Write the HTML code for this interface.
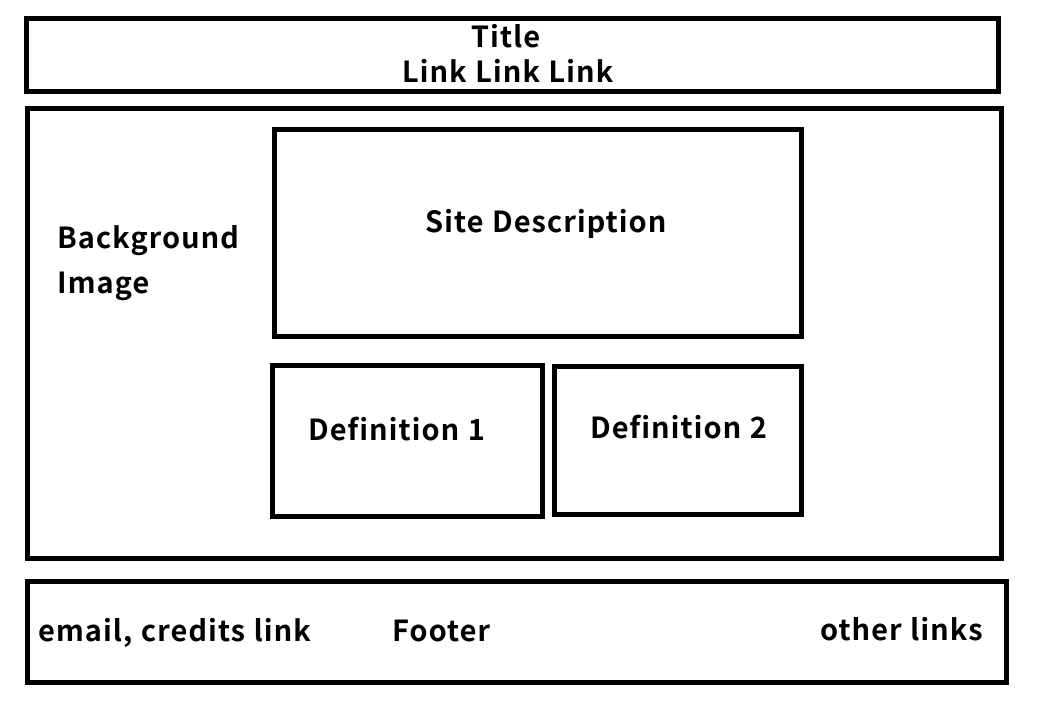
<!DOCTYPE html>
<html><head><meta charset="utf-8"><style>
html,body{margin:0;padding:0;background:#fff;width:1049px;height:707px;overflow:hidden;position:relative}
.b{position:absolute;border:5px solid #000;box-sizing:border-box}
.t{position:absolute;font-family:"Noto Sans CJK KR","DejaVu Sans",sans-serif;font-weight:bold;font-size:29px;color:#000;white-space:nowrap;line-height:1;letter-spacing:1px}
</style></head><body>
<div class="b" style="left:24px;top:16px;width:977px;height:78px"></div>
<div class="b" style="left:25px;top:106px;width:979px;height:455px"></div>
<div class="b" style="left:272px;top:127px;width:532px;height:212px"></div>
<div class="b" style="left:270px;top:363px;width:275px;height:156px"></div>
<div class="b" style="left:552px;top:364px;width:252px;height:153px"></div>
<div class="b" style="left:25px;top:579px;width:984px;height:106px"></div>
<div class="t" style="left:0;width:1012px;text-align:center;top:21px">Title</div>
<div class="t" style="left:0;width:1016px;text-align:center;top:56px">Link Link Link</div>
<div class="t" style="left:57px;top:222px">Background</div>
<div class="t" style="left:57px;top:267px">Image</div>
<div class="t" style="left:425px;top:206px">Site Description</div>
<div class="t" style="left:308px;top:414px">Definition 1</div>
<div class="t" style="left:590px;top:412px">Definition 2</div>
<div class="t" style="left:38px;top:615px">email, credits link</div>
<div class="t" style="left:392px;top:615px">Footer</div>
<div class="t" style="left:820px;top:614px">other links</div>
</body></html>
